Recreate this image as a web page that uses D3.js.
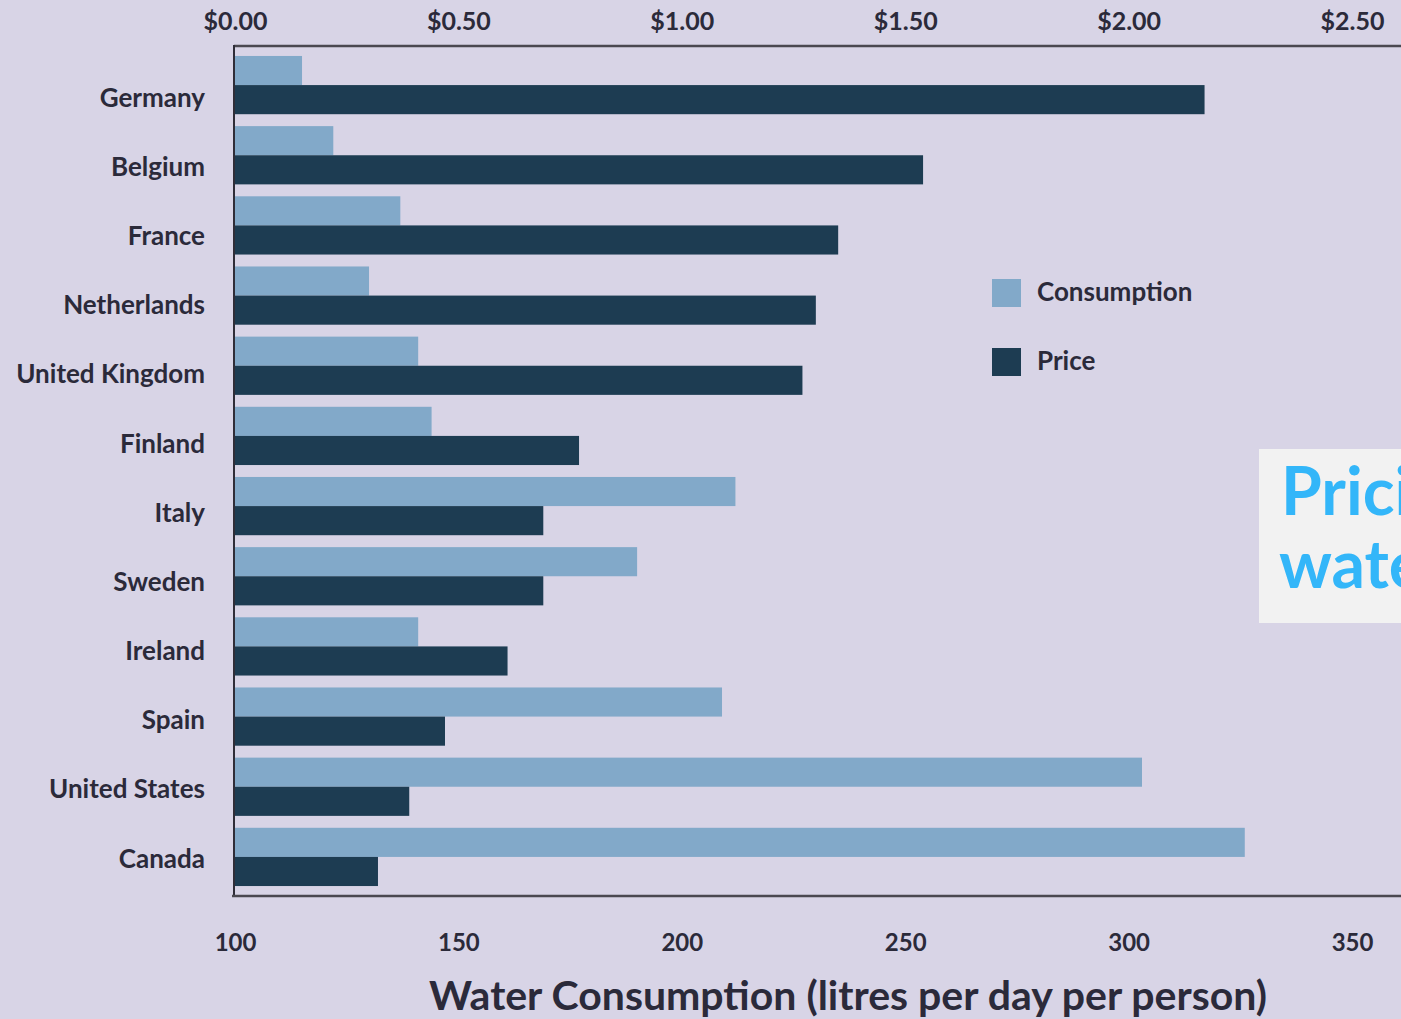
<html>
<head>
<style>
  body { margin: 0; background: #d8d4e6; }
  svg { display: block; }
  .lbl { font-family: Lato, "Open Sans", sans-serif; font-weight: 700; fill: #2b2a3a; }
</style>
</head>
<body>
<svg width="1401" height="1019"></svg>
<script src="https://cdnjs.cloudflare.com/ajax/libs/d3/7.8.5/d3.min.js"></script>
<script>

var countries = ["Germany", "Belgium", "France", "Netherlands", "United Kingdom", "Finland",
                 "Italy", "Sweden", "Ireland", "Spain", "United States", "Canada"];
// litres per day per person
var consumption = [115, 122, 137, 130, 141, 144, 212, 190, 141, 209, 303, 326];
// price in dollars
var price = [2.17, 1.54, 1.35, 1.30, 1.27, 0.77, 0.69, 0.69, 0.61, 0.47, 0.39, 0.32];

var priceTicks = [0, 0.5, 1, 1.5, 2, 2.5];
var consTicks = [100, 150, 200, 250, 300, 350];
var series = ["Consumption", "Price"];
var colors = ["#82a9c9", "#1d3c52"];

var svg = d3.select("svg"),
    W = +svg.attr("width"), H = +svg.attr("height");

svg.append("rect").attr("width", W).attr("height", H).attr("fill", "#d8d4e6");

var xPrice = d3.scaleLinear().domain([0, 2.5]).range([235, 1352]);
var xCons = d3.scaleLinear().domain([100, 350]).range([235, 1352]);

var y = d3.scaleBand().domain(countries).range([50, 892]).paddingInner(0.17).paddingOuter(0.085);
var sub = d3.scaleBand().domain(series).range([0, y.bandwidth()]);
// labels drift slightly against the bars in the original
var yLabel = d3.scalePoint().domain(countries).range([100, 861]);

var rows = countries.map(function(c, i) { return {c: c, cons: consumption[i], price: price[i]}; });

// bars
var g = svg.append("g");
g.selectAll("rect.cons").data(rows).enter().append("rect")
    .attr("class", "cons")
    .attr("x", xCons(100))
    .attr("y", function(d) { return y(d.c) + sub("Consumption"); })
    .attr("width", function(d) { return xCons(d.cons) - xCons(100); })
    .attr("height", sub.bandwidth())
    .attr("fill", colors[0]);

g.selectAll("rect.price").data(rows).enter().append("rect")
    .attr("class", "price")
    .attr("x", xPrice(0))
    .attr("y", function(d) { return y(d.c) + sub("Price"); })
    .attr("width", function(d) { return xPrice(d.price) - xPrice(0); })
    .attr("height", sub.bandwidth())
    .attr("fill", colors[1]);

// country labels
svg.selectAll("text.country").data(rows).enter().append("text")
    .attr("class", "lbl country")
    .attr("x", 205)
    .attr("y", function(d) { return yLabel(d.c); })
    .attr("text-anchor", "end")
    .attr("dominant-baseline", "middle")
    .attr("font-size", 26)
    .text(function(d) { return d.c; });

// axis frame lines
var yTop = 46, yBot = 896;
svg.append("line").attr("x1", 234).attr("x2", W).attr("y1", yTop).attr("y2", yTop)
    .attr("stroke", "#4a4850").attr("stroke-width", 2.5);
svg.append("line").attr("x1", 234).attr("x2", 234).attr("y1", yTop - 1).attr("y2", yBot)
    .attr("stroke", "#2f2d38").attr("stroke-width", 2);
svg.append("line").attr("x1", 232).attr("x2", W).attr("y1", yBot).attr("y2", yBot)
    .attr("stroke", "#4a4850").attr("stroke-width", 2.5);

// top axis (price)
var ax1 = svg.append("g").attr("transform", "translate(0,21)")
    .call(d3.axisTop(xPrice).tickValues(priceTicks).tickSize(0).tickPadding(0)
      .tickFormat(function(d) { return "$" + d3.format(".2f")(d); }));
ax1.select(".domain").remove();
ax1.selectAll("text").attr("class", "lbl").attr("font-size", 25)
    .attr("dy", "0.35em").attr("y", 0);

// bottom axis (consumption)
var ax2 = svg.append("g").attr("transform", "translate(0,943)")
    .call(d3.axisBottom(xCons).tickValues(consTicks).tickSize(0).tickPadding(0));
ax2.select(".domain").remove();
ax2.selectAll("text").attr("class", "lbl").attr("font-size", 24)
    .attr("dy", "0.35em").attr("y", 0);

svg.append("text").attr("class", "lbl")
    .attr("x", 848).attr("y", 1010)
    .attr("text-anchor", "middle")
    .attr("font-size", 41)
    .text("Water Consumption (litres per day per person)");

// legend
var lg = svg.append("g").attr("transform", "translate(992,279)");
series.forEach(function(s, i) {
  lg.append("rect").attr("x", 0).attr("y", i * 69).attr("width", 29).attr("height", 28)
    .attr("fill", colors[i]);
  lg.append("text").attr("class", "lbl").attr("x", 45).attr("y", i * 69 + 15)
    .attr("dominant-baseline", "middle").attr("font-size", 26).text(s);
});

// overlay title box (cut off at right edge, as in the source)
svg.append("rect").attr("x", 1259).attr("y", 449).attr("width", 200).attr("height", 174)
    .attr("fill", "#f2f2f2");
svg.append("text").attr("x", 1281).attr("y", 515)
    .attr("font-family", "Lato, sans-serif").attr("font-weight", 700)
    .attr("font-size", 66).attr("fill", "#33b6f9").text("Pricing");
svg.append("text").attr("x", 1279).attr("y", 588)
    .attr("font-family", "Lato, sans-serif").attr("font-weight", 700)
    .attr("font-size", 66).attr("fill", "#33b6f9").text("water");

</script>
</body>
</html>
